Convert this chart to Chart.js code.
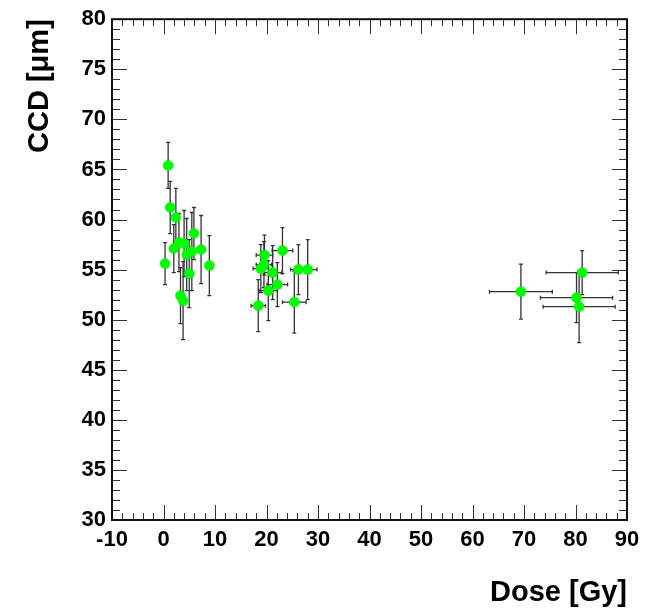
<!DOCTYPE html>
<html>
<head>
<meta charset="utf-8">
<script src="https://cdn.jsdelivr.net/npm/chart.js@4/dist/chart.umd.min.js"></script>
<style>
  html, body { margin: 0; padding: 0; background: #fff; }
  #wrap { width: 656px; height: 610px; }
</style>
</head>
<body>
<div id="wrap"><canvas id="ccdChart" width="656" height="610"></canvas></div>
<script>
// dose [Gy] and CCD [um] per sample, with errors
const doseValues = [0.3, 0.9, 1.3, 2.4, 2.0, 3.0, 4.0, 4.5, 5.5, 5.9, 7.3, 8.9, 5.0, 3.3, 3.8,
                    18.4, 18.9, 19.5, 19.6, 20.35, 21.2, 22.1, 23.1, 25.4, 26.2, 28.0,
                    69.4, 81.3, 80.2, 80.7];
const doseErrors = [0, 0, 0, 0, 0, 0, 0, 0, 0, 0, 0, 0, 0, 0, 0,
                    1.4, 1.5, 1.5, 1.6, 1.8, 1.8, 2.0, 2.0, 2.3, 1.5, 1.8,
                    6.1, 7.0, 7.0, 7.0];
const ccdValues = [55.6, 65.4, 61.2, 60.2, 57.1, 57.7, 57.6, 56.5, 56.8, 58.6, 57.0, 55.4, 54.6, 52.4, 51.9,
                   51.4, 55.1, 55.5, 56.45, 52.9, 54.7, 53.5, 56.9, 51.75, 55.0, 55.0,
                   52.8, 54.7, 52.2, 51.3];
const ccdErrors = [2.1, 2.3, 2.6, 2.9, 2.4, 2.9, 3.3, 3.6, 3.9, 2.6, 3.4, 3.0, 3.4, 2.8, 3.9,
                   2.6, 2.4, 2.3, 2.0, 3.0, 2.7, 2.2, 2.3, 3.1, 2.5, 3.0,
                   2.75, 2.2, 2.5, 3.6];

const xMin = -10, xMax = 90, xStep = 10;
const yMin = 30, yMax = 80, yStep = 5;

const tickFont = { family: "'Liberation Sans', Arial, sans-serif", weight: 'bold', size: 22 };
const titleFont = { family: "'Liberation Sans', Arial, sans-serif", weight: 'bold', size: 29 };

const points = doseValues.map((d, i) => ({ x: d, y: ccdValues[i] }));

// error bars drawn under the markers
const errorBars = {
  id: 'errorBars',
  beforeDatasetsDraw(chart) {
    const { ctx, scales: { x, y } } = chart;
    ctx.save();
    ctx.strokeStyle = '#333';
    ctx.lineWidth = 1.3;
    const cap = 2;
    points.forEach((p, i) => {
      const px = x.getPixelForValue(p.x);
      const py = y.getPixelForValue(p.y);
      const y1 = y.getPixelForValue(p.y + ccdErrors[i]);
      const y2 = y.getPixelForValue(p.y - ccdErrors[i]);
      ctx.beginPath();
      ctx.moveTo(px, y1); ctx.lineTo(px, y2);
      ctx.moveTo(px - cap, y1); ctx.lineTo(px + cap, y1);
      ctx.moveTo(px - cap, y2); ctx.lineTo(px + cap, y2);
      if (doseErrors[i] > 0) {
        const x1 = x.getPixelForValue(p.x - doseErrors[i]);
        const x2 = x.getPixelForValue(p.x + doseErrors[i]);
        ctx.moveTo(x1, py); ctx.lineTo(x2, py);
        ctx.moveTo(x1, py - cap); ctx.lineTo(x1, py + cap);
        ctx.moveTo(x2, py - cap); ctx.lineTo(x2, py + cap);
      }
      ctx.stroke();
    });
    ctx.restore();
  }
};

// ROOT style frame with inward ticks on all four sides
const rootFrame = {
  id: 'rootFrame',
  beforeDatasetsDraw(chart) {
    const { ctx, chartArea: a, scales: { x, y } } = chart;
    ctx.save();
    ctx.strokeStyle = '#333';
    ctx.lineWidth = 1;
    ctx.beginPath();
    const nx = (xMax - xMin) / 2;
    for (let i = 0; i <= nx; i++) {
      const v = xMin + i * 2;
      const px = Math.round(x.getPixelForValue(v)) + 0.5;
      const len = v % 10 === 0 ? 15 : 7;
      ctx.moveTo(px, a.bottom); ctx.lineTo(px, a.bottom - len);
      ctx.moveTo(px, a.top); ctx.lineTo(px, a.top + len);
    }
    for (let v = yMin; v <= yMax; v++) {
      const py = Math.round(y.getPixelForValue(v)) + 0.5;
      const len = v % 5 === 0 ? 15 : 8;
      ctx.moveTo(a.left, py); ctx.lineTo(a.left + len, py);
      ctx.moveTo(a.right, py); ctx.lineTo(a.right - len, py);
    }
    ctx.stroke();
    ctx.strokeStyle = '#111';
    ctx.lineWidth = 2;
    ctx.strokeRect(a.left, a.top, a.right - a.left, a.bottom - a.top);
    ctx.restore();
  }
};

const whiteBg = {
  id: 'whiteBg',
  beforeDraw(chart) {
    const { ctx, width, height } = chart;
    ctx.save();
    ctx.fillStyle = '#fff';
    ctx.fillRect(0, 0, width, height);
    ctx.restore();
  }
};

new Chart(document.getElementById('ccdChart').getContext('2d'), {
  type: 'scatter',
  data: {
    datasets: [{
      label: 'CCD',
      data: points,
      pointRadius: 5,
      pointHoverRadius: 5,
      pointBackgroundColor: '#00ff00',
      pointBorderColor: '#00e600',
      pointBorderWidth: 0.5
    }]
  },
  options: {
    responsive: false,
    animation: false,
    devicePixelRatio: 1,
    layout: { padding: { top: 16, right: 29, left: 0, bottom: 0 } },
    plugins: {
      legend: { display: false },
      tooltip: { enabled: false }
    },
    scales: {
      x: {
        type: 'linear',
        min: xMin,
        max: xMax,
        afterFit(scale) { scale.height = 90; },
        grid: { display: false, drawTicks: false },
        border: { display: false },
        ticks: { stepSize: xStep, color: '#000', font: tickFont, padding: 7, maxRotation: 0 },
        title: {
          display: true,
          text: 'Dose [Gy]',
          align: 'end',
          color: '#000',
          font: titleFont,
          padding: { top: 0, bottom: 0 }
        }
      },
      y: {
        type: 'linear',
        min: yMin,
        max: yMax,
        afterFit(scale) { scale.width = 112; },
        grid: { display: false, drawTicks: false },
        border: { display: false },
        ticks: { stepSize: yStep, color: '#000', font: tickFont, padding: 6 },
        title: {
          display: true,
          text: 'CCD [μm]',
          align: 'end',
          color: '#000',
          font: titleFont,
          padding: { top: 23, bottom: 0 }
        }
      }
    }
  },
  plugins: [whiteBg, rootFrame, errorBars]
});
</script>
</body>
</html>
